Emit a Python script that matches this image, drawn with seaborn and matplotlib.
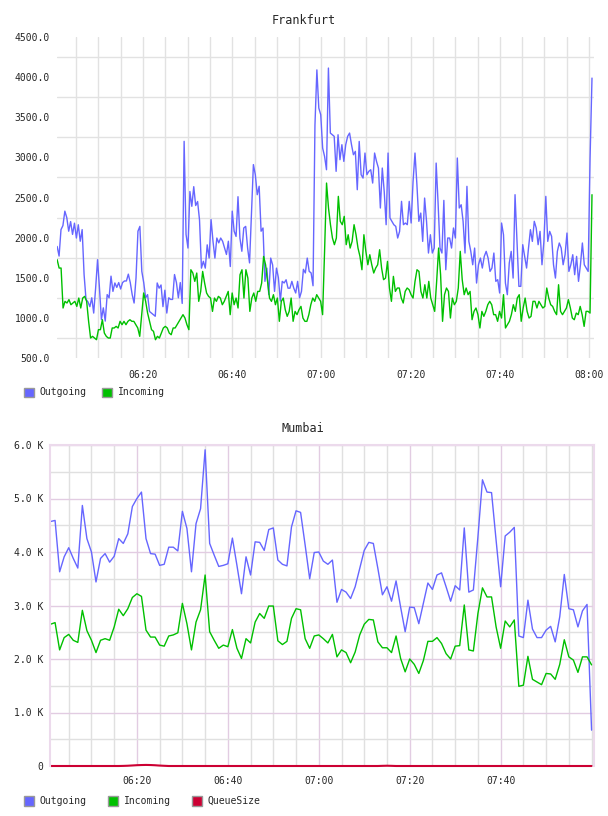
import pandas as pd
import numpy as np
import matplotlib
matplotlib.use("Agg")
import matplotlib.pyplot as plt
import matplotlib.dates as mdates
from matplotlib.ticker import FuncFormatter, FixedLocator
from matplotlib.patches import Rectangle
import seaborn as sns

# ---- Frankfurt (readings every ~27 s, 06:00:45 -> 08:00:40)
fra_start = "2024-01-01 06:00:45"
fra_end = "2024-01-01 08:00:40"
fra_outgoing = [
    1890, 1770, 2100, 2150, 2330, 2250, 2080, 2200, 2040, 2180, 1995, 2160, 1955, 2100, 1540, 1230,
    1200, 1140, 1250, 1060, 1370, 1725, 1370, 980, 1125, 960, 1290, 1250, 1520, 1330, 1435, 1380,
    1440, 1360, 1440, 1460, 1460, 1545, 1440, 1290, 1185, 1500, 2080, 2140, 1580, 1440, 1250, 1290,
    1080, 1060, 1040, 1020, 1435, 1370, 1410, 1140, 1345, 1060, 1250, 1230, 1230, 1540, 1440, 1250,
    1440, 1180, 3200, 2040, 1870, 2575, 2390, 2635, 2400, 2450, 2220, 1620, 1705, 1620, 1910, 1745,
    2225, 1955, 1745, 1995, 1935, 1995, 1955, 1870, 1790, 1955, 1640, 2330, 2080, 2015, 2510, 1995,
    1830, 2120, 2140, 1870, 1685, 2290, 2910, 2785, 2535, 2640, 2080, 2120, 1455, 1620, 1290, 1745,
    1660, 1330, 1620, 1500, 1210, 1455, 1435, 1475, 1370, 1370, 1455, 1370, 1310, 1455, 1250, 1330,
    1605, 1560, 1745, 1580, 1560, 1400, 3400, 4090,
    3615, 3532, 3116, 3012, 2846, 4113, 3303, 3282, 3262, 2826, 3282, 2971, 3158, 2950, 3158, 3262,
    3303, 3158, 3033, 3075, 2597, 3199, 2784, 2742, 3054, 2784, 2826, 2846, 2680, 3054, 2950, 2867,
    2369, 2867, 2576, 2161, 3054, 2244, 2203, 2161, 2140, 1995, 2078, 2452, 2161, 2182, 2161, 2452,
    2182, 2701, 3054, 2659, 2203, 2306, 1953, 2493, 2203, 1808, 2036, 1808, 1870, 2929, 2431, 1870,
    1808, 2464, 1600, 1995, 1995, 1870, 2120, 1995, 2992, 2369, 2410, 2203, 1808, 2639, 1953, 1829,
    1662, 1870, 1434, 1662, 1745, 1621, 1766, 1829, 1745, 1579, 1621, 1808, 1455, 1476, 1310, 2182,
    2036, 1434, 1289, 1683, 1829, 1496, 2535, 1953, 1393, 1393, 1912, 1766, 1621, 1870, 2099, 1953,
    2203, 2120, 1912, 2078, 1662, 1953, 2514, 1953, 2078, 2016, 1662, 1496, 1829, 1933, 1870, 1662,
    1787, 2057, 1579, 1662, 1787, 1538, 1766, 1455, 1662, 1933, 1662, 1621, 1579, 2992, 3988,
]
fra_incoming = [
    1725, 1621, 1621, 1123, 1206, 1185, 1227, 1164, 1185, 1206, 1143, 1247, 1123, 1247, 1268, 1206,
    957, 749, 770, 749, 728, 853, 853, 977, 811, 770, 749, 749, 874, 874, 894, 874,
    957, 915, 957, 915, 957, 977, 957, 957, 915, 874, 770, 1040, 1310, 1206, 1060, 957,
    853, 832, 728, 770, 749, 811, 874, 894, 874, 811, 790, 874, 874, 915, 957, 998,
    1040, 998, 915, 853, 1600, 1559, 1455, 1559, 1206, 1330, 1579, 1434, 1310, 1268, 1247, 1081,
    1247, 1206, 1268, 1247, 1164, 1206, 1268, 1330, 1040, 1310, 1164, 1247, 1123, 1538, 1600, 1247,
    1600, 1496, 1081, 1247, 1310, 1206, 1330, 1330, 1434, 1766, 1662, 1455, 1247, 1206, 1289, 1164,
    1247, 957, 1206, 1247, 1102, 1019, 1081, 1247, 957, 1081, 1040, 1102, 1143, 998, 957, 957,
    1040, 1164, 1247, 1206, 1289, 1247, 1206, 1040, 1829, 2680,
    2369, 2161, 1995, 1912, 1995, 2514, 2203, 2161, 2265, 1912, 2036, 1870, 1953, 2161, 2036, 1870,
    1766, 1600, 2036, 1829, 1662, 1787, 1662, 1559, 1621, 1662, 1849, 1621, 1476, 1496, 1704, 1372,
    1206, 1517, 1330, 1372, 1372, 1247, 1185, 1330, 1372, 1351, 1289, 1247, 1455, 1600, 1579, 1330,
    1247, 1413, 1247, 1455, 1247, 1164, 1081, 1455, 1870, 1538, 957, 1289, 1372, 1330, 998, 1247,
    1164, 1206, 1372, 1829, 1476, 1289, 1372, 1289, 1330, 977, 1081, 1123, 1040, 874, 1081, 1019,
    1081, 1164, 1206, 1164, 1040, 1040, 957, 1081, 998, 1289, 874, 915, 957, 1040, 1164, 1081,
    1247, 1289, 957, 1123, 1247, 1081, 998, 1019, 1206, 1206, 1123, 1206, 1164, 1123, 1143, 1372,
    1247, 1164, 1143, 1081, 1040, 1413, 1081, 1040, 1081, 1123, 1227, 1123, 998, 977, 1060, 1040,
    1143, 1040, 894, 1081, 1081, 1060, 2535,
]

# ---- Mumbai (one reading per minute, 06:01 -> 08:00)
mum_start = "2024-01-01 06:01"
mum_outgoing = [
    4.57, 4.59, 3.63, 3.91, 4.08, 3.88, 3.70, 4.87, 4.25, 4.00, 3.44, 3.88, 3.97, 3.81, 3.92, 4.25,
    4.16, 4.34, 4.85, 5.00, 5.12, 4.25, 3.97, 3.96, 3.75, 3.77, 4.09, 4.09, 4.02, 4.76, 4.44, 3.63,
    4.53, 4.81, 5.91, 4.16, 3.94, 3.73, 3.75, 3.78, 4.26, 3.75, 3.22, 3.91, 3.57, 4.19, 4.18, 4.03,
    4.42, 4.45, 3.85, 3.77, 3.74, 4.47, 4.77, 4.74, 4.13, 3.50, 3.99, 4.00,
    3.83, 3.77, 3.85, 3.06, 3.30, 3.25, 3.13, 3.35, 3.69, 4.03, 4.18, 4.16, 3.69, 3.20, 3.35, 3.08,
    3.46, 2.97, 2.51, 2.97, 2.96, 2.66, 3.04, 3.42, 3.30, 3.57, 3.61, 3.35, 3.08, 3.37, 3.29, 4.45,
    3.25, 3.29, 4.28, 5.35, 5.12, 5.11, 4.22, 3.35, 4.30, 4.37, 4.46, 2.43, 2.40, 3.10, 2.56, 2.40,
    2.40, 2.54, 2.61, 2.32, 2.79, 3.58, 2.94, 2.92, 2.60, 2.90, 3.02, 0.67,
]
mum_incoming = [
    2.65, 2.68, 2.17, 2.40, 2.46, 2.35, 2.31, 2.91, 2.53, 2.35, 2.12, 2.35, 2.38, 2.35, 2.60, 2.93,
    2.81, 2.94, 3.15, 3.22, 3.17, 2.54, 2.41, 2.41, 2.26, 2.24, 2.43, 2.45, 2.49, 3.04, 2.66, 2.17,
    2.69, 2.92, 3.57, 2.51, 2.35, 2.20, 2.26, 2.23, 2.55, 2.20, 2.01, 2.38, 2.30, 2.69, 2.85, 2.76,
    2.99, 2.99, 2.34, 2.27, 2.33, 2.76, 2.94, 2.92, 2.38, 2.20, 2.43, 2.45,
    2.38, 2.30, 2.46, 2.04, 2.17, 2.12, 1.93, 2.13, 2.45, 2.65, 2.74, 2.73, 2.32, 2.21, 2.21, 2.12,
    2.43, 2.01, 1.76, 2.00, 1.90, 1.73, 1.97, 2.33, 2.33, 2.40, 2.29, 2.10, 2.00, 2.24, 2.25, 3.01,
    2.17, 2.15, 2.85, 3.33, 3.16, 3.16, 2.60, 2.20, 2.71, 2.60, 2.73, 1.49, 1.51, 2.05, 1.62, 1.57,
    1.52, 1.73, 1.72, 1.62, 1.90, 2.36, 2.04, 1.98, 1.75, 2.04, 2.04, 1.89,
]
mum_queue = [0] * 16 + [2, 5, 10, 15, 18, 20, 18, 14, 8, 4] + [0] * 47 + [3, 5, 3] + [0] * 44

BLUE = "#6666ff"
GREEN = "#00c000"
RED = "#cc0033"
palette = {"Outgoing": BLUE, "Incoming": GREEN, "QueueSize": RED}

fra = pd.concat([
    pd.DataFrame({"time": pd.date_range(fra_start, fra_end, periods=len(fra_outgoing)),
                  "value": fra_outgoing, "series": "Outgoing"}),
    pd.DataFrame({"time": pd.date_range(fra_start, fra_end, periods=len(fra_incoming)),
                  "value": fra_incoming, "series": "Incoming"}),
])
mum_time = pd.date_range(mum_start, periods=len(mum_outgoing), freq="1min")
mum = pd.concat([
    pd.DataFrame({"time": mum_time, "value": np.array(mum_outgoing) * 1000, "series": "Outgoing"}),
    pd.DataFrame({"time": mum_time, "value": np.array(mum_incoming) * 1000, "series": "Incoming"}),
    pd.DataFrame({"time": mum_time, "value": mum_queue, "series": "QueueSize"}),
])

sns.set_style("white")
plt.rcParams['font.family'] = ['DejaVu Sans Mono']
FS = 7

W, H = 608, 816
fig = plt.figure(figsize=(W / 100, H / 100), dpi=100)
ax1 = fig.add_axes([57 / W, 1 - 358 / H, (594 - 57) / W, 321 / H])
ax2 = fig.add_axes([50 / W, 1 - 766 / H, (594 - 50) / W, 321 / H])

# Frankfurt
sns.lineplot(data=fra, x="time", y="value", hue="series", palette=palette,
             linewidth=1.0, legend=False, estimator=None, ax=ax1)
ax1.set_xlim(pd.Timestamp("2024-01-01 06:00:43"), pd.Timestamp("2024-01-01 08:01:07"))
ax1.set_ylim(500, 4500)
ax1.set_yticks(np.arange(500, 4501, 500))
ax1.yaxis.set_minor_locator(FixedLocator(np.arange(750, 4300, 500)))
ax1.yaxis.set_major_formatter(FuncFormatter(lambda v, p: f"{v:.1f}"))
ax1.set_xticks(pd.date_range("2024-01-01 06:20", "2024-01-01 08:00", freq="20min"))
ax1.xaxis.set_major_formatter(mdates.DateFormatter("%H:%M"))
ax1.xaxis.set_minor_locator(mdates.MinuteLocator(byminute=range(0, 60, 5)))
ax1.grid(False)
ax1.grid(which="minor", axis="both", color="#e2e2e2", linewidth=1.0)
ax1.grid(which="major", axis="x", color="#e2e2e2", linewidth=1.0)
for s in ax1.spines.values():
    s.set_visible(False)
ax1.tick_params(which="both", length=0, labelsize=FS)
ax1.tick_params(axis="y", pad=5)
ax1.tick_params(axis="x", pad=8.5)
ax1.set_xlabel("")
ax1.set_ylabel("")
ax1.set_axisbelow(True)

# Mumbai
sns.lineplot(data=mum, x="time", y="value", hue="series", palette=palette,
             linewidth=1.0, legend=False, estimator=None, ax=ax2)
for ln in ax2.lines:
    ln.set_clip_on(False)
ax2.lines[-1].set_linewidth(1.5)
ax2.set_xlim(pd.Timestamp("2024-01-01 06:00:53"), pd.Timestamp("2024-01-01 08:00:32"))
ax2.set_ylim(0, 6000)
ax2.set_yticks(np.arange(0, 6001, 1000))
ax2.yaxis.set_minor_locator(FixedLocator(np.arange(500, 6000, 1000)))
ax2.yaxis.set_major_formatter(FuncFormatter(lambda v, p: "0" if v == 0 else f"{v / 1000:.1f} K"))
ax2.set_xticks(pd.date_range("2024-01-01 06:20", "2024-01-01 07:40", freq="20min"))
ax2.xaxis.set_major_formatter(mdates.DateFormatter("%H:%M"))
ax2.xaxis.set_minor_locator(mdates.MinuteLocator(byminute=range(0, 60, 5)))
ax2.grid(False)
ax2.grid(which="minor", axis="both", color="#e0e0e0", linewidth=1.0)
ax2.grid(which="major", axis="both", color="#e2cce2", linewidth=1.0)
for side in ["left", "top", "right"]:
    ax2.spines[side].set_color("#ecdaec")
    ax2.spines[side].set_linewidth(1.5)
ax2.spines["bottom"].set_visible(False)
ax2.tick_params(which="both", length=0, labelsize=FS)
ax2.tick_params(axis="y", pad=5)
ax2.tick_params(axis="x", pad=7)
ax2.set_xlabel("")
ax2.set_ylabel("")
ax2.set_axisbelow(True)

# titles
fig.text(304 / W, 1 - 20 / H, "Frankfurt", ha="center", va="center", fontsize=8.5)
fig.text(303 / W, 1 - 429 / H, "Mumbai", ha="center", va="center", fontsize=8.5)

# legends
def legend_item(x_sq, x_txt, y_c, label):
    fig.add_artist(Rectangle((x_sq / W, 1 - (y_c + 5) / H), 10 / W, 10 / H,
                             transform=fig.transFigure, facecolor=palette[label],
                             edgecolor="#999999", linewidth=1.0))
    fig.text(x_txt / W, 1 - y_c / H, label, ha="left", va="center", fontsize=FS)

legend_item(24, 39, 392.5, "Outgoing")
legend_item(102, 118, 392.5, "Incoming")
legend_item(24, 39, 800.5, "Outgoing")
legend_item(108, 124, 800.5, "Incoming")
legend_item(192, 207, 800.5, "QueueSize")

fig.savefig("out.png", dpi=100)
